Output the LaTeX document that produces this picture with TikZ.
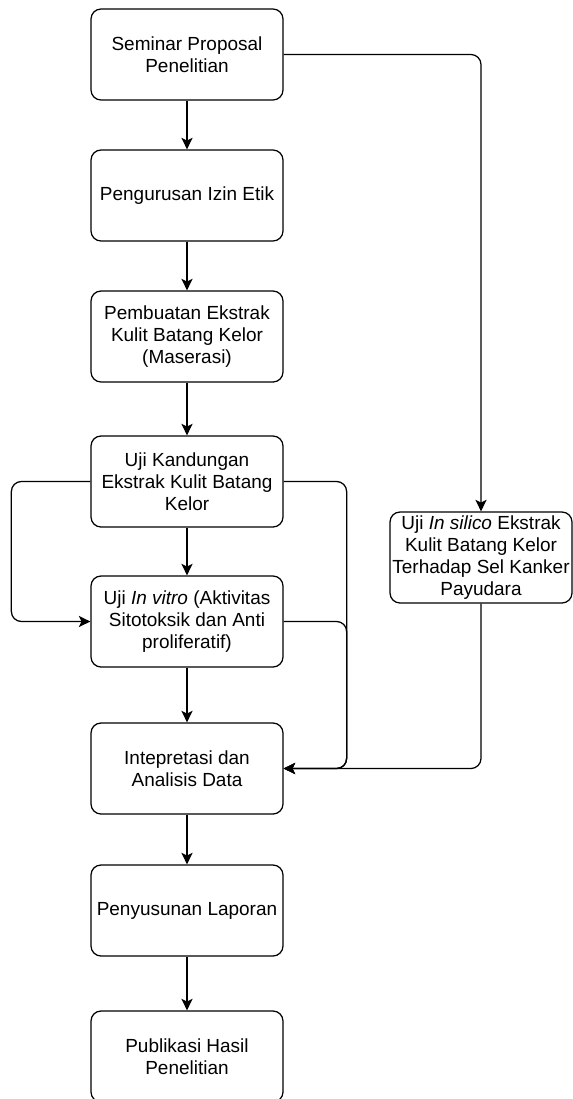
\documentclass[tikz,border=0pt]{standalone}
\usepackage{fontspec}
\setmainfont{Liberation Sans}
\usepackage{tikz}
\usetikzlibrary{positioning, arrows.meta}

\begin{document}
\begin{tikzpicture}[
	box/.style={draw, rounded corners=0.25cm, minimum width=4.8cm, minimum height=2.275cm, inner sep=0pt, align=center, font=\fontsize{13.5}{15.6}\selectfont},
	line width=0.9pt, >={Stealth[length=0.29cm, width=0.28cm, inset=0.07cm]}]
	\useasboundingbox (0,0) rectangle (14.325,-27.475);
	\node[box] (0) at (4.675, -1.3625) {Seminar Proposal\\Penelitian};
	\node[box] (1) at (4.675, -4.8875) {Pengurusan Izin Etik};
	\node[box] (2) at (4.675, -8.4125) {Pembuatan Ekstrak\\Kulit Batang Kelor\\(Maserasi)};
	\node[box] (3) at (4.675, -12.0375) {Uji Kandungan\\Ekstrak Kulit Batang\\Kelor};
	\node[box] (4) at (4.675, -15.5375) {Uji \textit{In vitro} (Aktivitas\\Sitotoksik dan Anti\\proliferatif)};
	\node[box] (5) at (4.675, -19.2125) {Intepretasi dan\\Analisis Data};
	\node[box] (6) at (4.675, -22.7625) {Penyusunan Laporan};
	\node[box] (7) at (4.675, -26.4125) {Publikasi Hasil\\Penelitian};
	\node[box, minimum width=4.55cm] (8) at (12.025, -13.9375) {Uji \textit{In silico} Ekstrak\\Kulit Batang Kelor\\Terhadap Sel Kanker\\Payudara};
	\draw [->] (0) to (1);
	\draw [->] (1) to (2);
	\draw [->] (2) to (3);
	\draw [->] (3) to (4);
	\draw [->] (4) to (5);
	\draw [->] (5) to (6);
	\draw [->] (6) to (7);
	\draw [->, rounded corners=0.25cm] (0.east) -| (8.north);
	\draw [->, rounded corners=0.25cm] (3.west) -- ++(-1.975,0) |- (4.west);
	\draw [->, rounded corners=0.25cm] (3.east) -- ++(1.575,0) |- (5.east);
	\draw [->, rounded corners=0.25cm] (4.east) -- ++(1.575,0) |- (5.east);
	\draw [->, rounded corners=0.25cm] (8.south) |- (5.east);
\end{tikzpicture}
\end{document}
